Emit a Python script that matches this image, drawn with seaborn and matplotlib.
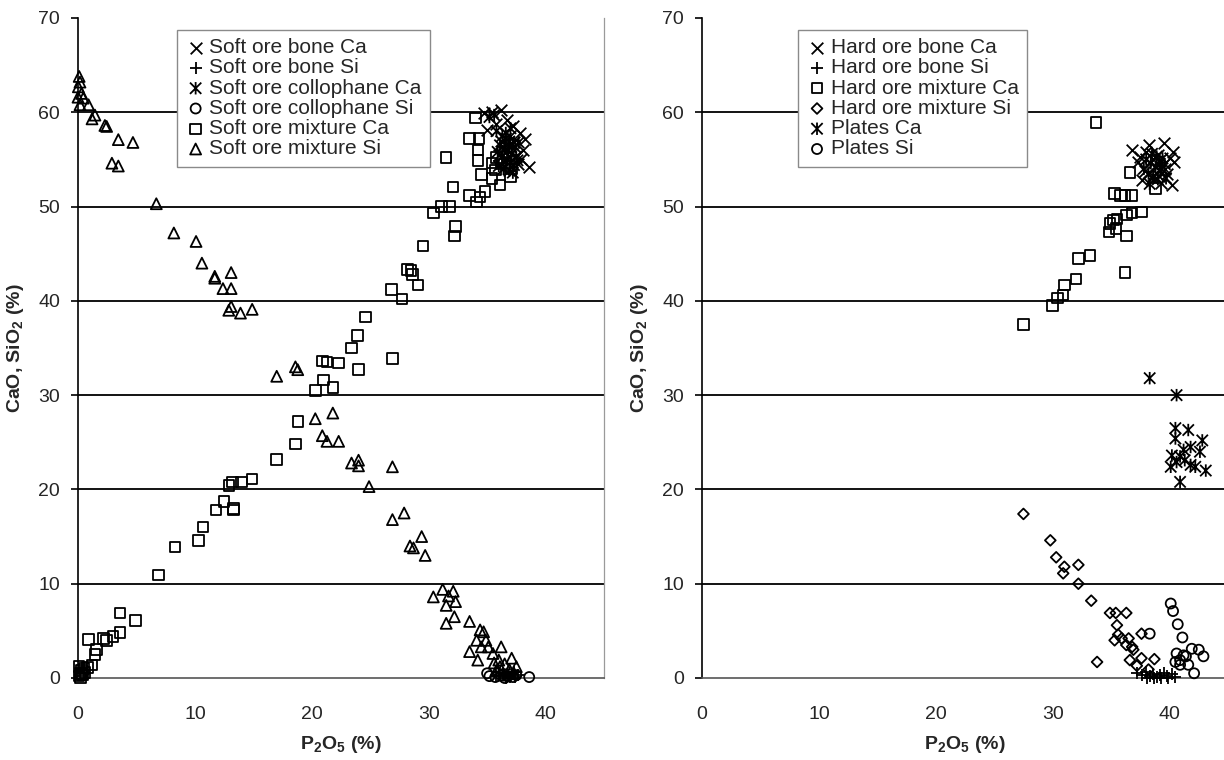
import matplotlib
matplotlib.use("Agg")
import matplotlib.pyplot as plt
from matplotlib.path import Path
import seaborn as sns

sns.set_style("white")
plt.rcParams["font.family"] = ["Liberation Sans", "DejaVu Sans"]
plt.rcParams["mathtext.fontset"] = "custom"
plt.rcParams["mathtext.rm"] = "Liberation Sans"
plt.rcParams["mathtext.bf"] = "Liberation Sans:bold"

# ---------------- Soft ore (left panel) ----------------
soft_bone_ca_x = [34.7, 35.4, 35.0, 35.8, 36.7, 37.2, 37.8, 38.1, 38.6, 37.5, 36.9, 36.2,
                  37.9, 36.5, 37.3, 36.0, 37.0, 38.2, 36.6, 37.6, 36.2]
soft_bone_ca_y = [59.9, 60.0, 58.1, 58.8, 59.2, 58.5, 57.8, 56.0, 54.2, 55.3, 56.5, 57.0,
                  55.0, 55.8, 56.8, 55.5, 57.5, 57.2, 54.8, 54.5, 60.2]

soft_bone_si_x = [36.0, 36.4, 36.8, 37.1, 37.4, 37.6, 36.6, 37.0, 37.3, 35.8]
soft_bone_si_y = [0.3, 0.5, 0.2, 0.4, 0.1, 0.3, 0.0, 0.1, 0.6, 0.2]

soft_coll_ca_x = [35.2, 35.8, 36.3, 36.6, 36.9, 37.2, 37.4, 36.1, 36.5, 36.8, 37.1, 37.5,
                  37.7, 36.3, 36.7, 37.0, 37.3, 36.0, 36.4, 36.9, 37.2, 36.6, 37.0, 35.9,
                  37.6, 35.6]
soft_coll_ca_y = [59.5, 58.0, 57.5, 57.2, 56.9, 56.6, 56.3, 56.5, 56.2, 55.9, 55.6, 55.3,
                  56.8, 55.3, 55.0, 54.7, 54.4, 54.3, 54.0, 53.8, 53.6, 57.8, 58.3, 55.8,
                  54.9, 59.7]

soft_coll_si_x = [35.0, 35.2, 35.7, 36.2, 36.8, 37.2, 38.6, 36.5, 37.5]
soft_coll_si_y = [0.5, 0.2, 0.1, 0.3, 0.2, 0.1, 0.1, 0.0, 0.3]

soft_mix_ca_x = [0.1, 0.2, 0.3, 0.5, 0.1, 0.4, 0.6, 0.2, 0.8, 0.3,
                 0.9, 1.45, 1.6, 1.2, 2.45, 3.0, 3.6, 3.6, 4.9, 2.2,
                 6.9, 8.3, 10.3, 10.7, 11.8, 12.5, 13.3, 13.3, 12.9, 13.2,
                 14.0, 14.9, 17.0, 18.6, 18.8, 20.3, 21.0, 21.8, 20.9, 21.3,
                 22.3, 24.0, 23.4, 23.9, 24.6, 26.9, 26.8, 27.7, 28.2, 28.5,
                 28.6, 29.1, 29.5, 30.4, 31.1, 31.8, 31.5, 32.1, 32.3, 32.2,
                 33.5, 34.4, 34.1, 34.8, 35.4, 34.5, 35.4, 35.7, 36.1, 37.0,
                 37.1, 34.2, 34.2, 33.5, 34.3, 34.0, 36.2, 35.8]
soft_mix_ca_y = [0.2, 0.5, 0.8, 1.0, 1.2, 0.3, 0.6, 0.0, 1.1, 0.4,
                 4.1, 2.5, 3.0, 1.4, 4.0, 4.4, 4.8, 6.9, 6.1, 4.2,
                 10.9, 13.9, 14.6, 16.0, 17.8, 18.7, 18.0, 17.8, 20.4, 20.8,
                 20.8, 21.1, 23.2, 24.8, 27.2, 30.5, 31.6, 30.8, 33.6, 33.5,
                 33.4, 32.7, 35.0, 36.3, 38.3, 33.9, 41.2, 40.2, 43.3, 43.2,
                 42.8, 41.7, 45.8, 49.3, 50.0, 50.0, 55.2, 52.1, 47.9, 46.9,
                 51.2, 51.0, 50.5, 51.6, 53.0, 53.4, 54.6, 53.9, 52.3, 53.2,
                 54.0, 54.9, 56.0, 57.2, 57.2, 59.4, 54.5, 55.2]

soft_mix_si_x = [0.1, 0.17, 0.03, 0.3, 0.0, 0.45, 0.17, 0.9, 1.45, 1.2,
                 2.3, 2.45, 3.45, 4.7, 2.9, 3.45, 6.7, 8.2, 10.1, 10.6,
                 11.7, 11.7, 13.1, 12.4, 13.1, 13.1, 12.9, 13.9, 14.9, 17.0,
                 18.6, 18.8, 20.3, 21.8, 20.9, 21.3, 22.3, 23.4, 24.0, 24.0,
                 26.9, 24.9, 26.9, 27.9, 28.4, 28.7, 29.4, 29.7, 30.4, 31.2,
                 31.7, 32.1, 32.3, 31.5, 32.2, 31.5, 33.5, 34.4, 34.7, 34.1,
                 34.9, 34.5, 35.1, 33.5, 34.2, 35.5, 36.2, 37.1, 36.0, 36.1,
                 35.8, 36.5, 36.9, 37.3, 36.4, 35.6, 37.5]
soft_mix_si_y = [63.8, 63.2, 62.7, 62.0, 61.6, 61.5, 60.8, 60.8, 59.7, 59.3,
                 58.6, 58.5, 57.1, 56.8, 54.6, 54.3, 50.3, 47.2, 46.3, 44.0,
                 42.6, 42.4, 43.0, 41.3, 41.3, 39.4, 39.0, 38.7, 39.1, 32.0,
                 33.0, 32.7, 27.5, 28.1, 25.7, 25.1, 25.1, 22.8, 23.1, 22.5,
                 22.4, 20.3, 16.8, 17.5, 14.0, 13.8, 15.0, 13.0, 8.6, 9.4,
                 8.7, 9.2, 8.1, 7.7, 6.5, 5.8, 6.0, 5.1, 4.9, 4.0,
                 4.0, 3.3, 3.3, 2.8, 1.9, 2.6, 3.3, 2.1, 1.9, 1.2,
                 0.8, 1.5, 0.9, 0.5, 0.3, 1.6, 1.2]

# ---------------- Hard ore and plates (right panel) ----------------
hard_bone_ca_x = [36.8, 37.3, 39.5, 40.2, 40.4, 38.0, 38.5, 39.0, 39.8, 37.6, 38.8, 39.3,
                  40.0, 38.2, 37.9, 39.6, 38.6, 39.1, 37.5, 40.3]
hard_bone_ca_y = [56.0, 54.7, 56.7, 52.3, 54.7, 55.8, 53.0, 55.5, 53.5, 52.8, 54.2, 52.5,
                  55.2, 56.5, 53.8, 54.0, 55.0, 53.2, 55.3, 55.8]

hard_bone_si_x = [37.2, 37.6, 38.0, 38.3, 38.6, 38.9, 39.2, 39.5, 39.8, 40.2, 40.5, 38.1,
                  38.7, 39.3, 39.9]
hard_bone_si_y = [0.5, 0.3, 0.6, 0.2, 0.4, 0.1, 0.3, 0.5, 0.2, 0.4, 0.1, 0.0,
                  0.0, 0.0, 0.0]

hard_mix_ca_x = [27.5, 30.0, 30.4, 30.9, 31.0, 32.0, 32.2, 33.2, 34.8, 35.4, 36.3, 36.2,
                 34.9, 35.2, 35.5, 36.3, 36.8, 37.6, 35.3, 35.8, 36.2, 36.8, 38.8, 36.6,
                 33.7]
hard_mix_ca_y = [37.5, 39.5, 40.3, 40.6, 41.7, 42.3, 44.5, 44.8, 47.3, 47.7, 46.9, 43.0,
                 48.2, 48.6, 48.7, 49.1, 49.3, 49.4, 51.4, 51.2, 51.2, 51.2, 51.9, 53.6,
                 58.9]

hard_mix_si_x = [27.5, 29.8, 30.3, 30.9, 31.0, 32.2, 32.2, 33.3, 34.9, 35.4, 36.3, 35.5,
                 35.3, 35.9, 36.5, 35.6, 37.6, 36.6, 37.6, 38.7, 33.8, 36.3, 36.8, 36.9,
                 37.2, 38.2]
hard_mix_si_y = [17.4, 14.6, 12.8, 11.1, 11.8, 12.0, 10.0, 8.2, 6.9, 6.9, 6.9, 5.6,
                 4.0, 4.2, 4.2, 4.6, 4.7, 1.9, 2.1, 2.0, 1.7, 3.5, 3.3, 3.0,
                 1.3, 0.9]

plates_ca_x = [38.0, 38.4, 38.8, 39.2, 39.6, 38.2, 38.6, 39.0, 39.4, 38.5, 38.9, 39.3,
               37.8, 39.7, 38.3, 39.1,
               38.3, 40.6, 40.5, 41.6, 40.5, 42.8, 41.8, 42.6, 40.2, 40.9, 41.3, 40.1,
               41.8, 42.2, 40.9, 43.1, 41.2, 40.6]
plates_ca_y = [55.0, 54.6, 54.2, 53.8, 54.5, 53.5, 53.2, 52.9, 55.1, 55.6, 55.3, 54.0,
               54.0, 53.0, 52.4, 54.8,
               31.8, 30.0, 26.5, 26.3, 25.4, 25.2, 24.5, 24.0, 23.6, 23.5, 23.1, 22.4,
               22.6, 22.4, 20.8, 22.0, 24.2, 22.9]

plates_si_x = [40.1, 40.3, 40.7, 41.1, 38.3, 40.6, 41.2, 41.9, 42.5, 42.9, 42.1, 40.5,
               40.9, 41.6, 41.4, 40.9]
plates_si_y = [7.9, 7.1, 5.7, 4.3, 4.7, 2.6, 2.4, 3.1, 3.0, 2.3, 0.5, 1.7,
               1.4, 1.4, 2.3, 1.9]

x_ticks = [0, 10, 20, 30, 40]
y_ticks = [0, 10, 20, 30, 40, 50, 60, 70]

# Excel-style asterisk: an X crossed by a vertical bar
asterisk = Path([(-0.5, -0.5), (0.5, 0.5), (-0.5, 0.5), (0.5, -0.5), (0, -0.55), (0, 0.55)],
                [Path.MOVETO, Path.LINETO, Path.MOVETO, Path.LINETO, Path.MOVETO, Path.LINETO])

STYLES = {
    "x": dict(marker="x", s=70),
    "+": dict(marker="+", s=85),
    "*": dict(marker=asterisk, s=80),
    "o": dict(marker="o", s=52),
    "s": dict(marker="s", s=57),
    "^": dict(marker="^", s=62),
    "D": dict(marker="D", s=30),
}


def draw(ax, x, y, kind, label):
    st = STYLES[kind]
    if kind in ("x", "+"):
        # line-art markers take their stroke colour from `color`
        sns.scatterplot(x=x, y=y, ax=ax, marker=st["marker"], s=st["s"],
                        color="black", linewidth=1.3, label=label,
                        clip_on=False, zorder=3)
    else:
        sns.scatterplot(x=x, y=y, ax=ax, marker=st["marker"], s=st["s"],
                        facecolor="none", edgecolor="black",
                        linewidth=1.3, label=label, clip_on=False, zorder=3)


fig = plt.figure(figsize=(12.24, 7.6), dpi=100)
W, H = 1224, 760
ax1 = fig.add_axes([78 / W, 82 / H, 526 / W, 660 / H])
ax2 = fig.add_axes([702 / W, 82 / H, 526 / W, 660 / H])

draw(ax1, soft_bone_ca_x, soft_bone_ca_y, "x", "Soft ore bone Ca")
draw(ax1, soft_bone_si_x, soft_bone_si_y, "+", "Soft ore bone Si")
draw(ax1, soft_coll_ca_x, soft_coll_ca_y, "*", "Soft ore collophane Ca")
draw(ax1, soft_coll_si_x, soft_coll_si_y, "o", "Soft ore collophane Si")
draw(ax1, soft_mix_ca_x, soft_mix_ca_y, "s", "Soft ore mixture Ca")
draw(ax1, soft_mix_si_x, soft_mix_si_y, "^", "Soft ore mixture Si")

draw(ax2, hard_bone_ca_x, hard_bone_ca_y, "x", "Hard ore bone Ca")
draw(ax2, hard_bone_si_x, hard_bone_si_y, "+", "Hard ore bone Si")
draw(ax2, hard_mix_ca_x, hard_mix_ca_y, "s", "Hard ore mixture Ca")
draw(ax2, hard_mix_si_x, hard_mix_si_y, "D", "Hard ore mixture Si")
draw(ax2, plates_ca_x, plates_ca_y, "*", "Plates Ca")
draw(ax2, plates_si_x, plates_si_y, "o", "Plates Si")

for ax, legx, last in ((ax1, 0.188, True), (ax2, 0.183, False)):
    ax.set_xlim(0, 45)
    ax.set_ylim(0, 70)
    ax.set_xticks(x_ticks)
    ax.set_yticks(y_ticks)
    ax.tick_params(axis="x", direction="in", length=5, width=1, pad=20,
                   labelsize=14, color="#555555")
    ax.tick_params(axis="y", direction="out", length=5, width=1.2, pad=8,
                   labelsize=14, color="black", left=True)
    for yv in y_ticks[1:-1]:
        ax.axhline(yv, color="black", lw=1.3, zorder=1)
    ax.spines["top"].set_visible(False)
    ax.spines["left"].set_color("black")
    ax.spines["left"].set_linewidth(1.2)
    ax.spines["bottom"].set_color("#555555")
    ax.spines["bottom"].set_linewidth(1.2)
    ax.spines["right"].set_color("#9a9a9a")
    ax.spines["right"].set_linewidth(0.9)
    ax.spines["right"].set_visible(last)
    ax.set_xlabel(r"P$_\mathbf{2}$O$_\mathbf{5}$ (%)", fontsize=14, fontweight="bold")
    ax.set_ylabel(r"CaO, SiO$_\mathbf{2}$ (%)", fontsize=14, fontweight="bold")
    ax.xaxis.set_label_coords(0.5, -0.085)
    ax.yaxis.set_label_coords(-0.098, 0.5)
    leg = ax.legend(loc="upper left", bbox_to_anchor=(legx, 0.982), fontsize=15,
                    frameon=True, fancybox=False, framealpha=1, edgecolor="#8a8a8a",
                    borderpad=0.4, labelspacing=0.06, handletextpad=0.15,
                    handlelength=1.0, borderaxespad=0, scatterpoints=1)
    leg.get_frame().set_linewidth(1.0)

fig.savefig("out.png", dpi=100)
